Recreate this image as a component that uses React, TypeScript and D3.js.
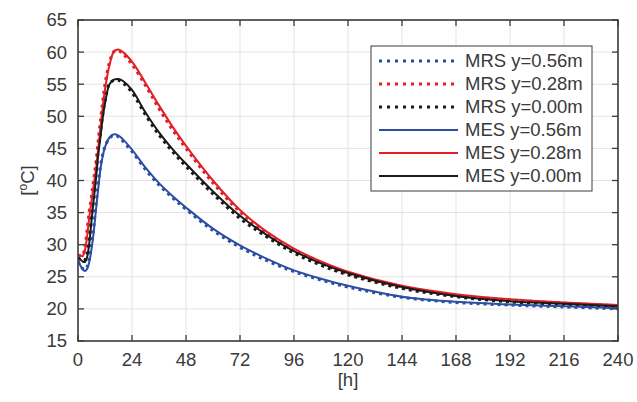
import React from "react";
import * as d3 from "d3";

const times = [0, 1, 2, 3, 4, 5, 6, 7, 8, 9, 10, 11, 12, 14, 16, 18, 20, 24, 30, 36, 42, 48, 60, 72, 84, 96, 108, 120, 144, 168, 192, 216, 240];

const mesRed = [28.4, 28.3, 28.2, 29.0, 31.2, 34.2, 36.8, 39.3, 41.8, 45.0, 48.3, 51.5, 54.2, 58.0, 60.1, 60.4, 60.0, 58.5, 55.2, 51.7, 48.4, 45.4, 40.0, 35.4, 32.0, 29.4, 27.4, 25.8, 23.6, 22.3, 21.5, 21.0, 20.6];
const mesBlack = [28.0, 27.7, 27.4, 27.3, 28.0, 30.2, 33.7, 37.0, 40.3, 44.0, 46.8, 49.8, 52.0, 55.0, 55.7, 55.8, 55.5, 54.1, 50.6, 47.5, 44.9, 42.6, 38.3, 34.5, 31.5, 29.0, 27.1, 25.6, 23.4, 22.0, 21.2, 20.8, 20.4];
const mesBlue = [27.5, 26.8, 26.2, 25.9, 26.2, 27.3, 29.3, 32.0, 35.5, 38.8, 41.8, 43.8, 45.2, 46.7, 47.2, 47.0, 46.4, 44.8, 42.0, 39.6, 37.6, 35.8, 32.5, 29.9, 27.8, 26.0, 24.7, 23.6, 21.9, 21.1, 20.7, 20.4, 20.1];

const mrsRed = [28.4, 28.3, 28.3, 29.6, 32.2, 35.2, 37.6, 40.2, 42.9, 46.2, 49.4, 52.4, 55.0, 58.4, 60.1, 60.2, 59.7, 58.1, 54.8, 51.2, 47.9, 45.0, 39.6, 35.1, 31.7, 29.1, 27.1, 25.5, 23.4, 22.1, 21.4, 20.9, 20.5];
const mrsBlack = [28.0, 27.7, 27.5, 27.6, 28.6, 31.0, 34.5, 37.9, 41.2, 44.8, 47.5, 50.3, 52.4, 55.1, 55.6, 55.6, 55.2, 53.7, 50.2, 47.1, 44.5, 42.2, 37.9, 34.1, 31.2, 28.7, 26.8, 25.3, 23.2, 21.9, 21.1, 20.7, 20.3];
const mrsBlue = [27.4, 26.8, 26.3, 26.1, 26.5, 27.8, 29.9, 32.8, 36.3, 39.5, 42.3, 44.1, 45.3, 46.6, 47.0, 46.8, 46.1, 44.5, 41.7, 39.3, 37.3, 35.5, 32.2, 29.6, 27.5, 25.8, 24.5, 23.4, 21.8, 21.0, 20.6, 20.3, 20.0];

const xTicks = [0, 24, 48, 72, 96, 120, 144, 168, 192, 216, 240];
const yTicks = [15, 20, 25, 30, 35, 40, 45, 50, 55, 60, 65];

const legendLabels = ["MRS y=0.56m", "MRS y=0.28m", "MRS y=0.00m", "MES y=0.56m", "MES y=0.28m", "MES y=0.00m"];

const BLUE = "#2b4ea3";
const RED = "#e41e26";
const BLACK = "#1a1a1a";

const series = [
  { values: mrsBlue, color: BLUE, dotted: true },
  { values: mrsRed, color: RED, dotted: true },
  { values: mrsBlack, color: BLACK, dotted: true },
  { values: mesBlue, color: BLUE, dotted: false },
  { values: mesRed, color: RED, dotted: false },
  { values: mesBlack, color: BLACK, dotted: false },
];

const W = 637;
const H = 402;
const L = 78, R = 618, T = 20, B = 341;
const FONT = "'Liberation Sans', Arial, Helvetica, sans-serif";
const TEXT = "#3a3a3a";
const AXIS = "#3c3c3c";

export default function App() {
  const x = d3.scaleLinear().domain([0, 240]).range([L, R]);
  const y = d3.scaleLinear().domain([15, 65]).range([B, T]);
  const line = d3
    .line<number>()
    .x((_, i) => x(times[i]))
    .y((d) => y(d))
    .curve(d3.curveCatmullRom.alpha(0.5));

  const tickLen = 6;
  const fs = 18.5;

  const legX = 371, legY = 46, legW = 221, legH = 145;
  const rowY0 = 61, rowDy = 23;

  return (
    <svg width={W} height={H} style={{ position: "absolute", left: 0, top: 0, background: "#fff" }} fontFamily={FONT}>
      <rect x={0} y={0} width={W} height={H} fill="#fff" />
      <defs>
        <clipPath id="clip">
          <rect x={L} y={T} width={R - L} height={B - T} />
        </clipPath>
      </defs>
      {xTicks.map((t) => (
        <line key={"gx" + t} x1={x(t)} x2={x(t)} y1={T} y2={B} stroke="#e3e3e3" strokeWidth={1} />
      ))}
      {yTicks.map((t) => (
        <line key={"gy" + t} x1={L} x2={R} y1={y(t)} y2={y(t)} stroke="#e3e3e3" strokeWidth={1} />
      ))}
      <g clipPath="url(#clip)">
        {series.map((s, i) => (
          <path
            key={i}
            d={line(s.values) || ""}
            fill="none"
            stroke={s.color}
            strokeWidth={s.dotted ? 3 : 2}
            strokeDasharray={s.dotted ? "3 4" : undefined}
          />
        ))}
      </g>
      {xTicks.map((t) => (
        <g key={"tx" + t}>
          <line x1={x(t)} x2={x(t)} y1={B} y2={B - tickLen} stroke={AXIS} strokeWidth={1.3} />
          <line x1={x(t)} x2={x(t)} y1={T} y2={T + tickLen} stroke={AXIS} strokeWidth={1.3} />
          <text x={x(t)} y={366} textAnchor="middle" fontSize={fs} fill={TEXT}>
            {t}
          </text>
        </g>
      ))}
      {yTicks.map((t) => (
        <g key={"ty" + t}>
          <line x1={L} x2={L + tickLen} y1={y(t)} y2={y(t)} stroke={AXIS} strokeWidth={1.3} />
          <line x1={R} x2={R - tickLen} y1={y(t)} y2={y(t)} stroke={AXIS} strokeWidth={1.3} />
          <text x={67} y={y(t)} dy="0.35em" textAnchor="end" fontSize={fs} fill={TEXT}>
            {t}
          </text>
        </g>
      ))}
      <rect x={L} y={T} width={R - L} height={B - T} fill="none" stroke={AXIS} strokeWidth={1.6} />
      <text x={(L + R) / 2} y={386} textAnchor="middle" fontSize={fs} fill={TEXT}>
        [h]
      </text>
      <text transform={`translate(34, ${(T + B) / 2}) rotate(-90)`} textAnchor="middle" fontSize={fs} fill={TEXT}>
        [<tspan fontSize={12} dy={-7}>o</tspan>
        <tspan dy={7}>C]</tspan>
      </text>
      <rect x={legX} y={legY} width={legW} height={legH} fill="#fff" stroke={AXIS} strokeWidth={1} />
      {legendLabels.map((lab, i) => {
        const s = series[i];
        const yy = rowY0 + i * rowDy;
        return (
          <g key={lab}>
            <line
              x1={379}
              x2={458}
              y1={yy}
              y2={yy}
              stroke={s.color}
              strokeWidth={s.dotted ? 3 : 2}
              strokeDasharray={s.dotted ? "3 5" : undefined}
            />
            <text x={465} y={yy} dy="0.35em" fontSize={fs} fill={TEXT}>
              {lab}
            </text>
          </g>
        );
      })}
    </svg>
  );
}
